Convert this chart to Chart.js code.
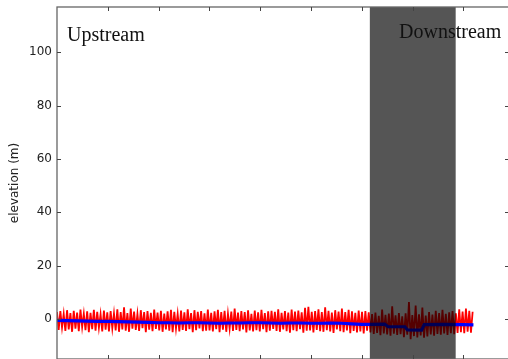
<!DOCTYPE html>
<html>
<head>
<meta charset="utf-8">
<script src="https://cdn.jsdelivr.net/npm/chart.js@4/dist/chart.umd.min.js"></script>
<style>
  html, body { margin: 0; padding: 0; overflow: hidden; background: #fff; width: 508px; height: 359px; }
  #wrap { position: absolute; left: 0; top: 0; width: 512px; height: 362px; }
</style>
</head>
<body>
<div id="wrap"><canvas id="profile" width="512" height="362"></canvas></div>
<script>
// Along-channel spacing between raw survey samples
const SAMPLE_SPACING = 0.033;

// Raw bed elevation samples (m), upstream to downstream
const rawElevation = [
  2.6,-4.1,3.0,-3.2,1.9,-4.5,3.3,-3.9,2.2,-4.8,
  3.1,-3.6,2.4,-4.6,3.5,-3.0,2.0,-4.2,2.9,-4.9,
  2.3,-3.8,3.4,-4.4,2.7,-3.3,1.8,-4.7,3.2,-4.0,
  2.5,-4.7,3.0,-3.5,2.1,-4.3,3.6,-4.8,2.6,-3.9,
  4.4,-4.4,2.2,-4.8,3.9,-3.6,2.8,-4.1,1.9,-4.5,
  3.3,-3.4,2.6,-4.9,3.0,-4.0,2.3,-4.6,3.5,-3.7,
  2.4,-4.3,3.1,-4.8,2.0,-3.9,2.9,-4.4,3.4,-4.9,
  2.7,-3.6,1.9,-4.7,3.2,-4.1,2.5,-4.5,3.6,-3.8,
  2.2,-4.9,3.3,-4.2,2.7,-3.5,3.0,-4.6,2.1,-4.4,
  3.5,-4.3,2.3,-4.7,2.9,-3.8,3.4,-4.9,2.6,-4.0,
  3.1,-4.8,2.0,-3.6,2.8,-4.5,3.9,-4.1,2.4,-4.6,
  3.0,-3.9,2.6,-5.0,3.3,-4.3,1.9,-4.7,3.2,-4.2,
  2.5,-4.7,3.4,-3.8,2.2,-4.9,2.9,-4.4,3.1,-3.7,
  2.7,-4.5,3.6,-4.8,2.3,-3.9,3.0,-4.6,2.4,-5.1,
  3.5,-4.2,2.8,-4.6,3.2,-3.8,2.5,-5.1,4.2,-4.4,
  4.6,-4.3,2.7,-5.0,3.0,-4.1,3.6,-4.6,2.6,-4.8,
  4.4,-4.2,3.1,-4.7,2.4,-5.2,3.3,-3.9,2.8,-4.6,
  3.9,-4.9,2.6,-4.3,3.4,-5.3,2.9,-4.5,2.3,-5.0,
  3.2,-4.7,2.7,-5.4,3.0,-4.4,2.5,
  -5.0,1.8,-5.6,2.4,-5.2,1.2,-6.1,3.5,-5.4,1.6,
  -5.8,2.0,-6.3,4.8,-5.5,1.4,-6.0,2.2,-5.7,1.0,
  -6.8,2.1,-5.9,6.4,-7.6,1.5,-6.4,5.0,-6.9,1.8,
  -6.2,4.3,-7.0,1.3,-6.5,2.6,-5.8,1.7,-6.3,3.1,
  -5.6,2.2,-5.9,3.4,-5.4,1.9,-6.0,2.5,-5.3,3.0,-5.7,2.1,
  -5.2,3.6,-4.9,2.8,-5.3,3.9,-4.8,3.1,-5.1,2.7
];

// Smoothed bed profile
const trendDistance = [
  0.0,0.2,0.4,0.6,0.8,1.0,1.2,1.4,1.6,1.8,2.0,2.2,2.4,2.6,2.8,3.0,3.2,3.4,3.6,3.8,
  4.0,4.2,4.4,4.6,4.8,5.0,5.2,5.4,5.6,5.8,6.0,6.2,6.45,6.52,6.85,6.9,7.18,7.23,7.6,8.0,8.2
];
const trendElevation = [
  -0.5,-0.6,-0.7,-0.8,-0.9,-0.9,-1.0,-1.1,-1.2,-1.3,-1.4,-1.4,-1.5,-1.4,-1.4,-1.5,-1.6,-1.5,-1.5,-1.4,
  -1.4,-1.5,-1.6,-1.5,-1.5,-1.6,-1.6,-1.5,-1.6,-1.8,-2.0,-2.0,-1.9,-2.9,-2.9,-4.1,-4.2,-2.1,-2.0,-2.1,-2.2
];

const yTickValues = [0, 20, 40, 60, 80, 100];
const xTickValues = [1, 2, 3, 4, 5, 6, 7, 8];
const downstreamReach = [6.16, 7.85];
const reachLabels = ['Upstream', 'Downstream'];

const rawPoints = rawElevation.map((v, i) => ({ x: i * SAMPLE_SPACING, y: v }));
const trendPoints = trendElevation.map((v, i) => ({ x: trendDistance[i], y: v }));

// Shaded reach, frame with inward ticks, and reach labels
const framePlugin = {
  id: 'frame',
  afterDatasetsDraw(chart) {
    const { ctx, chartArea: a, scales: { x, y } } = chart;
    ctx.save();
    const x0 = x.getPixelForValue(downstreamReach[0]);
    const x1 = x.getPixelForValue(downstreamReach[1]);
    ctx.fillStyle = 'rgba(0,0,0,0.667)';
    ctx.fillRect(x0, a.top, x1 - x0, a.bottom - a.top);

    ctx.strokeStyle = '#666';
    ctx.lineWidth = 1.3;
    ctx.strokeRect(a.left, a.top, a.right - a.left, a.bottom - a.top);

    ctx.lineWidth = 1;
    ctx.strokeStyle = '#444';
    ctx.beginPath();
    xTickValues.forEach(v => {
      const px = Math.round(x.getPixelForValue(v)) + 0.5;
      ctx.moveTo(px, a.top); ctx.lineTo(px, a.top + 4);
      ctx.moveTo(px, a.bottom); ctx.lineTo(px, a.bottom - 4);
    });
    yTickValues.forEach(v => {
      const py = Math.round(y.getPixelForValue(v)) + 0.5;
      ctx.moveTo(a.left, py); ctx.lineTo(a.left + 4, py);
      ctx.moveTo(a.right, py); ctx.lineTo(a.right - 4, py);
    });
    ctx.stroke();

    ctx.fillStyle = '#111';
    ctx.font = '20px "Liberation Serif", "Times New Roman", serif';
    ctx.textBaseline = 'alphabetic';
    ctx.textAlign = 'left';
    ctx.fillText(reachLabels[0], a.left + 10, a.top + 34);
    ctx.fillText(reachLabels[1], a.left + 342, a.top + 31);
    ctx.restore();
  }
};

new Chart(document.getElementById('profile'), {
  type: 'line',
  data: {
    datasets: [
      { data: trendPoints, borderColor: '#0000ff', borderWidth: 3.2, pointRadius: 0, tension: 0, order: 0 },
      { data: rawPoints, borderColor: '#ff0000', borderWidth: 1.8, pointRadius: 0, tension: 0, order: 1 }
    ]
  },
  options: {
    responsive: false,
    animation: false,
    devicePixelRatio: 1,
    layout: { padding: { top: 7, right: 3, bottom: 3, left: 0 } },
    plugins: { legend: { display: false }, tooltip: { enabled: false } },
    scales: {
      x: {
        type: 'linear', min: 0, max: 8.9,
        grid: { display: false, drawTicks: false },
        border: { display: false },
        ticks: { display: false },
        afterFit: s => { s.height = 0; s.paddingLeft = 0; s.paddingRight = 0; }
      },
      y: {
        type: 'linear', min: -15, max: 117,
        grid: { display: false, drawTicks: false },
        border: { display: false },
        afterBuildTicks: s => { s.ticks = yTickValues.map(v => ({ value: v })); },
        ticks: { color: '#222', padding: 5, font: { family: '"DejaVu Sans", sans-serif', size: 12 } },
        title: {
          display: true, text: 'elevation (m)', color: '#222',
          padding: { top: 8, bottom: 0 },
          font: { family: '"DejaVu Sans", sans-serif', size: 12 }
        },
        afterFit: s => { s.width = 57; s.paddingTop = 0; s.paddingBottom = 0; }
      }
    }
  },
  plugins: [framePlugin]
});
</script>
</body>
</html>
